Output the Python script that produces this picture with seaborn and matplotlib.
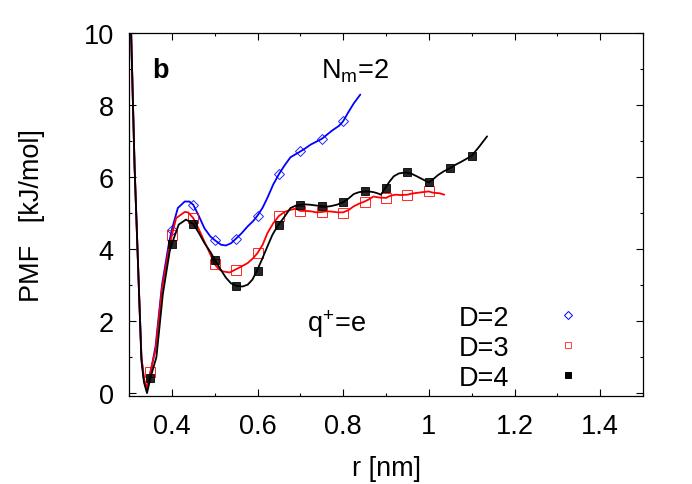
import matplotlib
matplotlib.use("Agg")
import matplotlib.pyplot as plt
from matplotlib.lines import Line2D
from matplotlib.ticker import MultipleLocator
import seaborn as sns

# smooth PMF curves
R_D2 = [0.303, 0.305, 0.313, 0.321, 0.329, 0.335, 0.342, 0.350, 0.362, 0.377, 0.393, 0.400,
        0.414, 0.430, 0.441, 0.450, 0.463, 0.476, 0.490, 0.501, 0.515, 0.526, 0.538, 0.550,
        0.563, 0.577, 0.590, 0.600, 0.612, 0.623, 0.637, 0.650, 0.663, 0.677, 0.700, 0.712,
        0.724, 0.750, 0.774, 0.790, 0.800, 0.812, 0.825, 0.840]
PMF_D2 = [11.0, 10.0, 6.3, 3.6, 1.0, 0.35, 0.05, 0.55, 1.3, 3.0, 4.15, 4.54,
          5.14, 5.32, 5.32, 5.23, 4.92, 4.58, 4.35, 4.24, 4.12, 4.10, 4.16, 4.29,
          4.44, 4.63, 4.78, 4.93, 5.15, 5.42, 5.80, 6.08, 6.32, 6.55, 6.71, 6.80,
          6.90, 7.06, 7.29, 7.42, 7.55, 7.80, 8.05, 8.29]

R_D3 = [0.303, 0.305, 0.313, 0.321, 0.329, 0.335, 0.341, 0.350, 0.362, 0.377, 0.393, 0.400,
        0.410, 0.430, 0.438, 0.450, 0.463, 0.476, 0.490, 0.500, 0.510, 0.519, 0.535, 0.550,
        0.563, 0.577, 0.590, 0.600, 0.612, 0.623, 0.637, 0.650, 0.663, 0.677, 0.689, 0.700,
        0.712, 0.724, 0.737, 0.750, 0.762, 0.774, 0.787, 0.800, 0.812, 0.825, 0.837, 0.850,
        0.860, 0.871, 0.885, 0.900, 0.910, 0.922, 0.935, 0.950, 0.960, 0.972, 0.985, 1.000,
        1.008, 1.015, 1.025, 1.036]
PMF_D3 = [11.0, 10.0, 6.3, 3.6, 1.0, 0.4, 0.15, 0.6, 1.2, 2.9, 4.0, 4.38,
          4.86, 5.03, 5.02, 4.86, 4.55, 4.21, 3.85, 3.58, 3.44, 3.38, 3.35, 3.44,
          3.52, 3.61, 3.75, 3.89, 4.12, 4.44, 4.72, 4.92, 5.03, 5.09, 5.12, 5.06,
          5.06, 5.05, 5.02, 5.03, 5.05, 5.04, 5.02, 5.02, 5.08, 5.19, 5.26, 5.32,
          5.38, 5.46, 5.43, 5.42, 5.48, 5.51, 5.50, 5.51, 5.54, 5.56, 5.58, 5.60,
          5.57, 5.56, 5.55, 5.51]

R_D4 = [0.303, 0.305, 0.313, 0.321, 0.329, 0.335, 0.342, 0.350, 0.364, 0.379, 0.395, 0.400,
        0.416, 0.433, 0.450, 0.463, 0.476, 0.490, 0.501, 0.513, 0.526, 0.538, 0.551, 0.565,
        0.577, 0.588, 0.598, 0.610, 0.623, 0.635, 0.648, 0.662, 0.677, 0.690, 0.700, 0.712,
        0.724, 0.737, 0.750, 0.760, 0.770, 0.785, 0.800, 0.812, 0.825, 0.837, 0.850, 0.860,
        0.871, 0.880, 0.888, 0.898, 0.908, 0.918, 0.930, 0.947, 0.960, 0.972, 0.985, 1.000,
        1.010, 1.022, 1.035, 1.050, 1.062, 1.075, 1.087, 1.100, 1.118, 1.136]
PMF_D4 = [11.0, 10.0, 6.3, 3.6, 0.9, 0.3, 0.0, 0.42, 1.0, 2.75, 3.94, 4.14,
          4.68, 4.82, 4.70, 4.45, 4.17, 3.92, 3.69, 3.45, 3.21, 3.05, 2.98, 2.96,
          3.01, 3.15, 3.38, 3.70, 4.07, 4.40, 4.66, 4.88, 5.14, 5.21, 5.23, 5.24,
          5.23, 5.21, 5.19, 5.18, 5.19, 5.23, 5.30, 5.40, 5.53, 5.58, 5.60, 5.60,
          5.58, 5.55, 5.51, 5.69, 5.87, 6.02, 6.10, 6.13, 6.09, 6.02, 5.94, 5.85,
          5.94, 6.06, 6.16, 6.25, 6.34, 6.42, 6.50, 6.59, 6.85, 7.13]

# sampled points shown with symbols
MR_D2 = [0.40, 0.45, 0.50, 0.55, 0.60, 0.65, 0.70, 0.75, 0.80]
MP_D2 = [4.54, 5.23, 4.24, 4.29, 4.92, 6.09, 6.71, 7.06, 7.56]
MR_D3 = [0.35, 0.40, 0.45, 0.50, 0.55, 0.60, 0.65, 0.70, 0.75, 0.80, 0.85, 0.90, 0.95, 1.00]
MP_D3 = [0.60, 4.38, 4.86, 3.58, 3.43, 3.89, 4.93, 5.06, 5.04, 5.01, 5.32, 5.42, 5.50, 5.61]
MR_D4 = [0.35, 0.40, 0.45, 0.50, 0.55, 0.60, 0.65, 0.70, 0.75, 0.80, 0.85, 0.90, 0.95,
         1.00, 1.05, 1.10]
MP_D4 = [0.42, 4.14, 4.70, 3.69, 2.98, 3.38, 4.66, 5.23, 5.19, 5.30, 5.60, 5.69, 6.13,
         5.85, 6.24, 6.59]

LABELS = ["D=2", "D=3", "D=4"]

sns.set_style("ticks")
plt.rcParams["font.family"] = ["Liberation Sans", "DejaVu Sans"]
plt.rcParams["mathtext.fontset"] = "custom"
plt.rcParams["mathtext.rm"] = "Liberation Sans"
plt.rcParams["mathtext.it"] = "Liberation Sans"
for key in ["text.color", "axes.labelcolor", "xtick.color", "ytick.color", "axes.edgecolor"]:
    plt.rcParams[key] = "black"
FS = 19.5

fig = plt.figure(figsize=(6.92, 4.85), dpi=100)
ax = fig.add_axes([129 / 692, 1 - 397 / 485, (643 - 129) / 692, (397 - 34) / 485])

series = [
    (R_D2, PMF_D2, MR_D2, MP_D2, "#0000ff", "D", 5.5, "none"),
    (R_D3, PMF_D3, MR_D3, MP_D3, "#ff0000", "s", 6.5, "none"),
    (R_D4, PMF_D4, MR_D4, MP_D4, "#000000", "s", 6.0, "#000000"),
]
for r, pmf, mr, mp, col, mk, ms, fc in series:
    sns.lineplot(x=r, y=pmf, ax=ax, color=col, lw=1.3, sort=False, estimator=None)
    ax.plot(mr, mp, ls="none", marker=mk, ms=ms, mfc=fc, mec=col, mew=0.7, alpha=0.85)

ax.set_xlim(0.3, 1.5)
ax.set_ylim(-0.08, 10)
ax.xaxis.set_major_locator(MultipleLocator(0.2))
ax.xaxis.set_minor_locator(MultipleLocator(0.1))
ax.yaxis.set_major_locator(MultipleLocator(2))
ax.yaxis.set_minor_locator(MultipleLocator(1))
ax.set_xticks([0.4, 0.6, 0.8, 1.0, 1.2, 1.4])
ax.set_xticklabels(["0.4", "0.6", "0.8", "1", "1.2", "1.4"])
ax.tick_params(which="both", direction="in", top=True, right=True, labelsize=FS,
               width=0.8, color="black")
ax.tick_params(axis="x", which="both", pad=12)
ax.tick_params(axis="y", which="both", pad=11)
ax.tick_params(which="major", length=5)
ax.tick_params(which="minor", length=2.5)
for s in ax.spines.values():
    s.set_visible(True)
    s.set_linewidth(0.9)
    s.set_color("black")

ax.set_xlabel("r [nm]", fontsize=FS, labelpad=12)
ax.set_ylabel("PMF   [kJ/mol]", fontsize=FS, labelpad=28)

ax.text(0.354, 8.97, "b", fontsize=FS, fontweight="bold", va="center")
ax.text(0.748, 8.97, r"N$_{\rm m}$=2", fontsize=FS, va="center")
ax.text(0.715, 1.95, r"q$^{+}$=e", fontsize=FS, va="center")

handles = [
    Line2D([], [], ls="none", marker="D", ms=4.5, mfc="none", mec="#0000ff", mew=0.7),
    Line2D([], [], ls="none", marker="s", ms=5, mfc="none", mec="#ff4040", mew=0.7),
    Line2D([], [], ls="none", marker="s", ms=5, mfc="black", mec="black", mew=0.7),
]
ax.legend(handles, LABELS, loc="lower right", bbox_to_anchor=(0.913, -0.03),
          frameon=False, markerfirst=False, fontsize=FS, handlelength=1.0,
          handletextpad=1.7, labelspacing=0.15, borderaxespad=0.2)

fig.savefig("out.png", dpi=100)
